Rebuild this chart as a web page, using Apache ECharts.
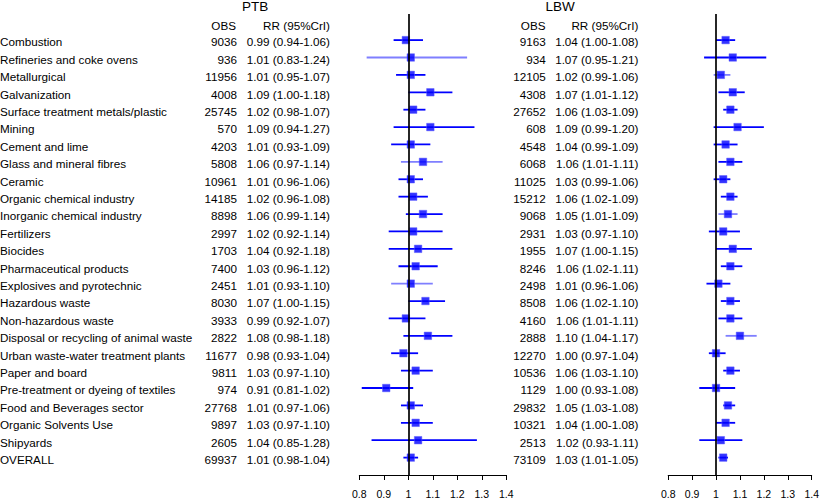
<!DOCTYPE html>
<html>
<head>
<meta charset="utf-8">
<script src="https://cdn.jsdelivr.net/npm/echarts@6/dist/echarts.min.js"></script>
<style>
html,body{margin:0;padding:0;background:#fff;}
#chart{width:822px;height:499px;}
</style>
</head>
<body>
<div id="chart"></div>
<script>
var categories = ['Combustion','Refineries and coke ovens','Metallurgical','Galvanization','Surface treatment metals/plastic','Mining','Cement and lime','Glass and mineral fibres','Ceramic','Organic chemical industry','Inorganic chemical industry','Fertilizers','Biocides','Pharmaceutical products','Explosives and pyrotechnic','Hazardous waste','Non-hazardous waste','Disposal or recycling of animal waste','Urban waste-water treatment plants','Paper and board','Pre-treatment or dyeing of textiles','Food and Beverages sector','Organic Solvents Use','Shipyards','OVERALL'];

var ptbObs = [9036,936,11956,4008,25745,570,4203,5808,10961,14185,8898,2997,1703,7400,2451,8030,3933,2822,11677,9811,974,27768,9897,2605,69937];
var ptbRR  = [0.99,1.01,1.01,1.09,1.02,1.09,1.01,1.06,1.01,1.02,1.06,1.02,1.04,1.03,1.01,1.07,0.99,1.08,0.98,1.03,0.91,1.01,1.03,1.04,1.01];
var ptbLo  = [0.94,0.83,0.95,1.00,0.98,0.94,0.93,0.97,0.96,0.96,0.99,0.92,0.92,0.96,0.93,1.00,0.92,0.98,0.93,0.97,0.81,0.97,0.97,0.85,0.98];
var ptbHi  = [1.06,1.24,1.07,1.18,1.07,1.27,1.09,1.14,1.06,1.08,1.14,1.14,1.18,1.12,1.10,1.15,1.07,1.18,1.04,1.10,1.02,1.06,1.10,1.28,1.04];
var ptbLight = [1,7,14];

var lbwObs = [9163,934,12105,4308,27652,608,4548,6068,11025,15212,9068,2931,1955,8246,2498,8508,4160,2888,12270,10536,1129,29832,10321,2513,73109];
var lbwRR  = [1.04,1.07,1.02,1.07,1.06,1.09,1.04,1.06,1.03,1.06,1.05,1.03,1.07,1.06,1.01,1.06,1.06,1.10,1.00,1.06,1.00,1.05,1.04,1.02,1.03];
var lbwLo  = [1.00,0.95,0.99,1.01,1.03,0.99,0.99,1.01,0.99,1.02,1.01,0.97,1.00,1.02,0.96,1.02,1.01,1.04,0.97,1.03,0.93,1.03,1.00,0.93,1.01];
var lbwHi  = [1.08,1.21,1.06,1.12,1.09,1.20,1.09,1.11,1.06,1.09,1.09,1.10,1.15,1.11,1.06,1.10,1.11,1.17,1.04,1.10,1.08,1.08,1.08,1.11,1.05];
var lbwLight = [2,10,17];

var xTicks = [0.8,0.9,1,1.1,1.2,1.3,1.4];

var FONT = '"Liberation Sans", Arial, Helvetica, sans-serif';
var BLUE = '#0000ff';
var LIGHT = '#7f7fff';

function rrText(r,l,h){ return r.toFixed(2)+' ('+l.toFixed(2)+'-'+h.toFixed(2)+')'; }

function ciSeries(gi, lo, hi, light){
  var data = lo.map(function(v,i){ return [v, hi[i], i, light.indexOf(i) >= 0 ? 1 : 0]; });
  return {
    type:'custom', xAxisIndex:gi, yAxisIndex:gi, silent:true, clip:false,
    encode:{x:[0,1], y:2},
    data:data,
    renderItem:function(params, api){
      var a = api.coord([api.value(0), api.value(2)]);
      var b = api.coord([api.value(1), api.value(2)]);
      return {type:'line', shape:{x1:a[0], y1:a[1], x2:b[0], y2:b[1]},
        style:{stroke: api.value(3) ? LIGHT : BLUE, lineWidth:1.8}};
    }
  };
}

function pointSeries(gi, rr){
  return {
    type:'scatter', xAxisIndex:gi, yAxisIndex:gi, silent:true,
    symbol:'rect', symbolSize:7.5,
    itemStyle:{color:BLUE, borderColor:'#5a5aff', borderWidth:0.6},
    data: rr.map(function(v,i){ return [v,i]; }),
    markLine:{silent:true, symbol:'none', label:{show:false},
      lineStyle:{color:'#000', width:1.7, type:'solid'},
      data:[{xAxis:1}]}
  };
}

function textSeries(gi, showNames, obs, rr, lo, hi, xName, xObs, xRR){
  return {
    type:'custom', xAxisIndex:gi, yAxisIndex:gi, silent:true, clip:false,
    encode:{x:0, y:1},
    data: obs.map(function(v,i){ return [1, i]; }),
    renderItem:function(params, api){
      var i = params.dataIndex;
      var p = api.coord([1, api.value(1)]);
      var y = p[1] + 1.8;
      var children = [];
      if (showNames) children.push({type:'text', style:{text:categories[i], x:xName, y:y, align:'left', verticalAlign:'middle', fill:'#000', font:'11.7px '+FONT}});
      children.push({type:'text', style:{text:String(obs[i]), x:xObs, y:y, align:'right', verticalAlign:'middle', fill:'#000', font:'11.7px '+FONT}});
      children.push({type:'text', style:{text:rrText(rr[i],lo[i],hi[i]), x:xRR, y:y, align:'right', verticalAlign:'middle', fill:'#000', font:'11.7px '+FONT}});
      return {type:'group', children:children};
    }
  };
}

function xAxisCfg(gi){
  return {
    type:'value', gridIndex:gi, min:0.8, max:1.4, interval:0.1, position:'bottom',
    axisLine:{show:true, onZero:false, lineStyle:{color:'#000', width:1}},
    axisTick:{show:true, length:5, lineStyle:{color:'#000', width:1}},
    axisLabel:{show:true, margin:13, color:'#000', fontSize:10.5, fontFamily:FONT,
      formatter:function(v){ var r = Math.round(v*10)/10; return xTicks.indexOf(r)>=0 ? String(r) : ''; }},
    splitLine:{show:false}
  };
}
function yAxisCfg(gi){
  return {type:'value', gridIndex:gi, min:-1.5, max:25, inverse:true, show:false};
}

var chart = echarts.init(document.getElementById('chart'), null, {renderer:'svg'});
chart.setOption({
  animation:false,
  backgroundColor:'#fff',
  grid:[
    {left:359.3, top:14, width:147, height:461},
    {left:668.2, top:14, width:146, height:461}
  ],
  xAxis:[xAxisCfg(0), xAxisCfg(1)],
  yAxis:[yAxisCfg(0), yAxisCfg(1)],
  graphic:[
    {type:'text', x:255, y:6, style:{text:'PTB', align:'center', verticalAlign:'middle', fill:'#000', font:'13.5px '+FONT}},
    {type:'text', x:236, y:25, style:{text:'OBS', align:'right', verticalAlign:'middle', fill:'#000', font:'11.7px '+FONT}},
    {type:'text', x:330, y:25, style:{text:'RR (95%CrI)', align:'right', verticalAlign:'middle', fill:'#000', font:'11.7px '+FONT}},
    {type:'text', x:560, y:6, style:{text:'LBW', align:'center', verticalAlign:'middle', fill:'#000', font:'13.5px '+FONT}},
    {type:'text', x:545.5, y:25, style:{text:'OBS', align:'right', verticalAlign:'middle', fill:'#000', font:'11.7px '+FONT}},
    {type:'text', x:638.3, y:25, style:{text:'RR (95%CrI)', align:'right', verticalAlign:'middle', fill:'#000', font:'11.7px '+FONT}}
  ],
  series:[
    ciSeries(0, ptbLo, ptbHi, ptbLight),
    pointSeries(0, ptbRR),
    textSeries(0, true, ptbObs, ptbRR, ptbLo, ptbHi, 0, 237, 330),
    ciSeries(1, lbwLo, lbwHi, lbwLight),
    pointSeries(1, lbwRR),
    textSeries(1, false, lbwObs, lbwRR, lbwLo, lbwHi, 0, 545.7, 638.3)
  ]
});
</script>
</body>
</html>
